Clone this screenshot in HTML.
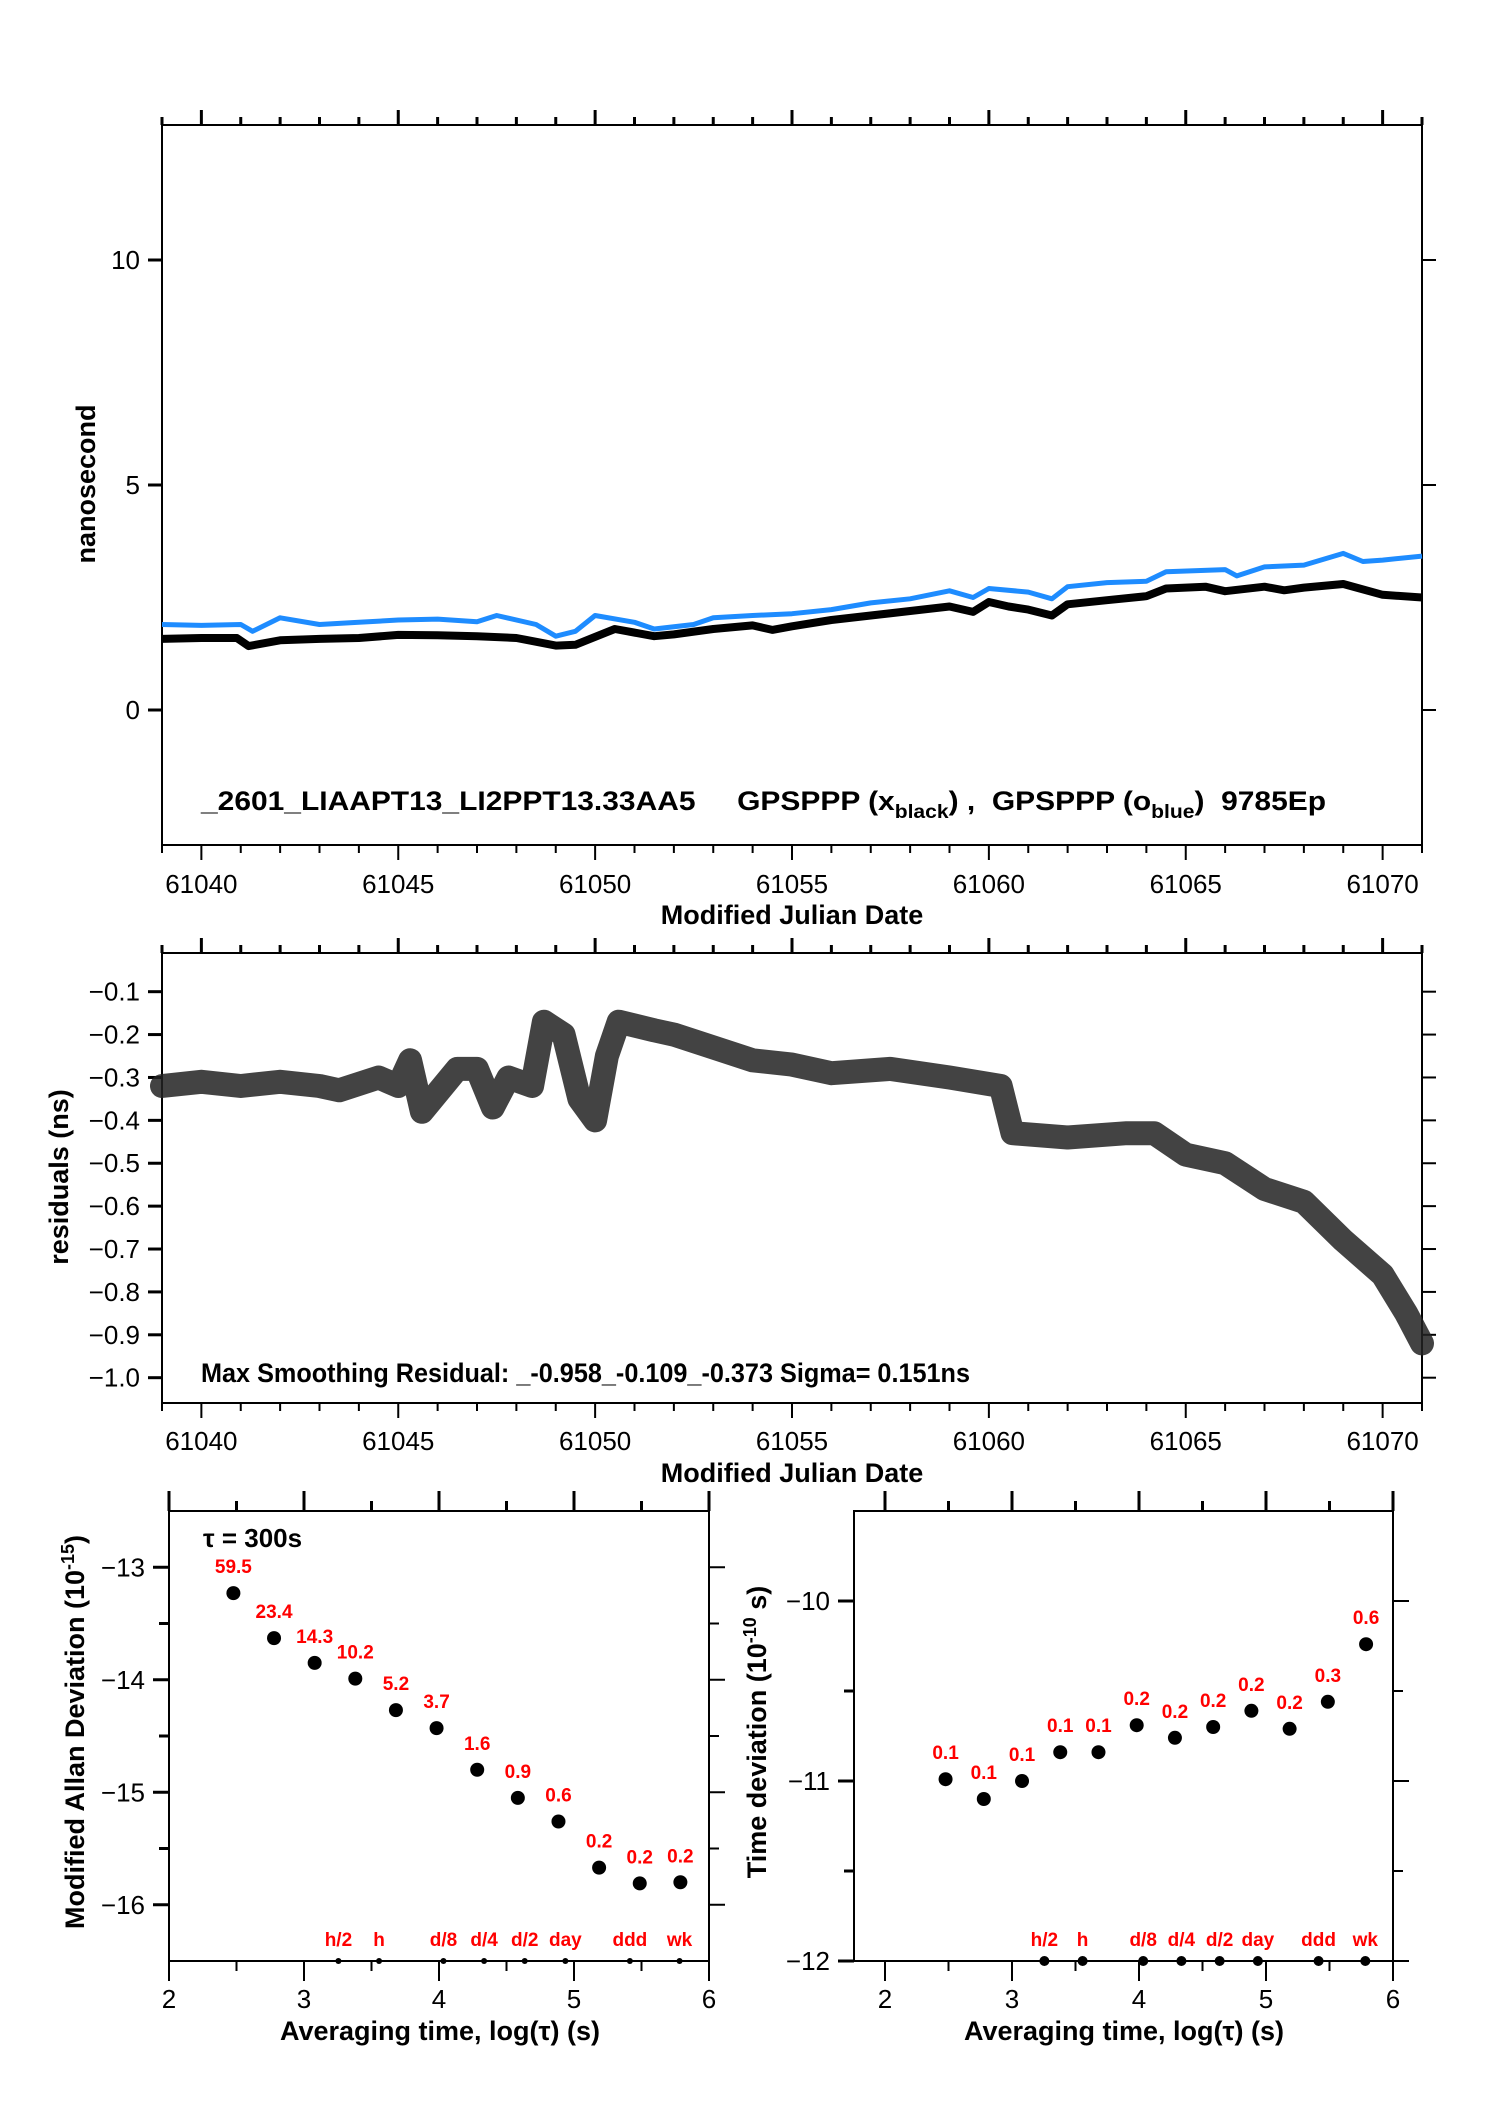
<!DOCTYPE html>
<html><head><meta charset="utf-8"><style>
body{margin:0;background:#fff;}
svg{display:block;font-family:"Liberation Sans",Arial,sans-serif;}
.tk{font-size:26px;fill:#000;}
.ttl{font-size:27px;font-weight:bold;fill:#000;}
.red{font-size:19px;font-weight:bold;fill:#f00;}
</style></head><body>
<svg id="fig" width="1488" height="2105" viewBox="0 0 1488 2105" xmlns="http://www.w3.org/2000/svg"></svg>
<script>
// ---- top plot data ----
const topBlackX=[61039,61040,61040.9,61041.2,61042,61043,61044,61045,61046,61047,61048,61049,61049.5,61050.5,61051.5,61052,61053,61054,61054.5,61055,61056,61057,61058,61059,61059.6,61060,61060.5,61061,61061.6,61062,61063,61064,61064.5,61065.5,61066,61067,61067.5,61068,61069,61070,61071];
const topBlackY=[1.58,1.6,1.6,1.42,1.55,1.58,1.6,1.67,1.66,1.64,1.6,1.43,1.45,1.8,1.64,1.68,1.8,1.88,1.78,1.86,2.0,2.1,2.2,2.3,2.18,2.4,2.3,2.23,2.1,2.35,2.44,2.53,2.7,2.74,2.64,2.74,2.66,2.72,2.8,2.56,2.5];
const topBlueX=[61039,61040,61041,61041.3,61042,61043,61044,61045,61046,61047,61047.5,61048.5,61049,61049.5,61050,61051,61051.5,61052.5,61053,61054,61055,61056,61057,61058,61059,61059.6,61060,61061,61061.6,61062,61063,61064,61064.5,61066,61066.3,61067,61068,61069,61069.5,61070,61071];
const topBlueY=[1.9,1.88,1.9,1.75,2.05,1.9,1.95,2.0,2.02,1.96,2.1,1.9,1.64,1.75,2.1,1.95,1.8,1.9,2.05,2.1,2.14,2.23,2.38,2.47,2.65,2.5,2.7,2.62,2.47,2.74,2.83,2.86,3.07,3.12,2.98,3.18,3.22,3.48,3.3,3.33,3.42];
const topXTicks=[61040,61045,61050,61055,61060,61065,61070];
const topYTicks=[0,5,10];
// ---- residuals data ----
const resX=[61039,61040,61041,61042,61043,61043.5,61044.5,61045,61045.3,61045.6,61046.5,61047,61047.4,61047.8,61048.4,61048.7,61049.2,61049.6,61050,61050.3,61050.6,61051.5,61052,61053,61054,61055,61056,61057.5,61059,61060.3,61060.6,61062,61063.5,61064.2,61065,61066,61067,61068,61069,61070,61070.6,61071];
const resY=[-0.32,-0.31,-0.32,-0.31,-0.32,-0.33,-0.30,-0.32,-0.26,-0.38,-0.28,-0.28,-0.37,-0.30,-0.32,-0.17,-0.20,-0.35,-0.40,-0.25,-0.17,-0.19,-0.20,-0.23,-0.26,-0.27,-0.29,-0.28,-0.30,-0.32,-0.43,-0.44,-0.43,-0.43,-0.48,-0.50,-0.56,-0.59,-0.68,-0.76,-0.85,-0.92];
const resYTicks=[-0.1,-0.2,-0.3,-0.4,-0.5,-0.6,-0.7,-0.8,-0.9,-1.0];
// ---- stability data ----
const tauLog=[2.477,2.778,3.079,3.380,3.681,3.982,4.283,4.584,4.885,5.186,5.487,5.788];
const adev=[-13.23,-13.63,-13.85,-13.99,-14.27,-14.43,-14.80,-15.05,-15.26,-15.67,-15.81,-15.80];
const adevLbl=["59.5","23.4","14.3","10.2","5.2","3.7","1.6","0.9","0.6","0.2","0.2","0.2"];
const tdev=[-10.99,-11.10,-11.0,-10.84,-10.84,-10.69,-10.76,-10.70,-10.61,-10.71,-10.56,-10.24];
const tdevLbl=["0.1","0.1","0.1","0.1","0.1","0.2","0.2","0.2","0.2","0.2","0.3","0.6"];
const markLog=[3.255,3.556,4.033,4.334,4.635,4.936,5.414,5.782];
const markLbl=["h/2","h","d/8","d/4","d/2","day","ddd","wk"];
const stabXTicks=[2,3,4,5,6];
const adevYTicks=[-13,-14,-15,-16];
const tdevYTicks=[-10,-11,-12];

const NS="http://www.w3.org/2000/svg";
const svg=document.getElementById('fig');
function mk(tag,attrs,parent){const e=document.createElementNS(NS,tag);for(const k in attrs)e.setAttribute(k,attrs[k]);(parent||svg).appendChild(e);return e;}
function txt(s,x,y,cls,anchor,parent){const t=mk('text',{x:x,y:y,class:cls,'text-anchor':anchor||'middle'},parent);t.textContent=s;return t;}
function scale(d0,d1,r0,r1){return v=>r0+(v-d0)*(r1-r0)/(d1-d0);}

function frame(g,L,T,R,B){
  const r=mk('rect',{x:L,y:T,width:R-L,height:B-T,fill:'none',stroke:'#000','stroke-width':2},g);
  
  
}
function xTicks(g,sx,T,B,from,to,minorStep,majorStep,labels,labY,minorLen,majorLen){
  for(let v=from;v<=to+1e-9;v+=minorStep){
    const isMaj=Math.abs(v/majorStep-Math.round(v/majorStep))<1e-6;
    const x=sx(v),l=isMaj?majorLen:minorLen;
    mk('line',{x1:x,x2:x,y1:T,y2:T-l,stroke:'#000','stroke-width':3},g);
    mk('line',{x1:x,x2:x,y1:B,y2:B+l,stroke:'#000','stroke-width':2},g);
  }
  labels.forEach(v=>{const t=txt(String(v),sx(v),labY,'tk','middle',g);
    
    });
}
function yTicks(g,sy,L,R,vals,fmt,len,minor){
  vals.forEach(v=>{const y=sy(v);
    mk('line',{x1:L-len,x2:L,y1:y,y2:y,stroke:'#000','stroke-width':3},g);
    mk('line',{x1:R,x2:R+len,y1:y,y2:y,stroke:'#000','stroke-width':2},g);
    const t=txt(fmt(v),L-len-8,y+9,'tk','end',g);
    
    });
  (minor||[]).forEach(v=>{const y=sy(v);
    mk('line',{x1:L-10,x2:L,y1:y,y2:y,stroke:'#000','stroke-width':3},g);
    mk('line',{x1:R,x2:R+10,y1:y,y2:y,stroke:'#000','stroke-width':2},g);});
}
function vtitle(g,s,x,y,name){const t=mk('text',{x:0,y:0,class:'ttl','text-anchor':'middle',transform:`translate(${x},${y}) rotate(-90)`},g);t.innerHTML=s;}
function pts(xs,ys,sx,sy){return xs.map((x,i)=>sx(x).toFixed(1)+','+sy(ys[i]).toFixed(1)).join(' ');}
const neg=v=>(v<0?'\u2212':'')+Math.abs(v);

// ===== top plot =====
{
const g=mk('g',{});
const L=162,R=1422,T=125,B=845;
const sx=scale(61039,61071,L,R), sy=scale(-3,13,B,T);
frame(g,L,T,R,B);
xTicks(g,sx,T,B,61039,61071,1,5,topXTicks,893,8,15);
yTicks(g,sy,L,R,topYTicks,v=>String(v),14);
const bl=mk('polyline',{points:pts(topBlackX,topBlackY,sx,sy),fill:'none',stroke:'#000','stroke-width':8,'stroke-linejoin':'round'},g);

const bu=mk('polyline',{points:pts(topBlueX,topBlueY,sx,sy),fill:'none',stroke:'#1e8cff','stroke-width':5,'stroke-linejoin':'round'},g);

const a=mk('text',{x:201,y:810,class:'ttl','font-size':'29',textLength:1125,lengthAdjust:'spacingAndGlyphs'},g);
a.innerHTML='_2601_LIAAPT13_LI2PPT13.33AA5&#160;&#160;&#160;&#160;&#160;GPSPPP (x<tspan font-size="19" dy="8">black</tspan><tspan dy="-8">) ,&#160;&#160;GPSPPP (o</tspan><tspan font-size="19" dy="8">blue</tspan><tspan dy="-8">)&#160;&#160;9785Ep</tspan>';

const xt=txt('Modified Julian Date',792,924,'ttl','middle',g);
vtitle(g,'nanosecond',95,484,'y-axis-title');
}
// ===== residuals =====
{
const g=mk('g',{});
const L=162,R=1422,T=953,B=1403;
const sx=scale(61039,61071,L,R), sy=scale(-1.059,-0.0098,B,T);
frame(g,L,T,R,B);
xTicks(g,sx,T,B,61039,61071,1,5,topXTicks,1450,8,15);
yTicks(g,sy,L,R,resYTicks,v=>neg(v).replace(/^(\u2212)(\d)$/,'$1$2.0').replace(/(\.\d)\d+/,'$1'),14);
const band=mk('polyline',{points:pts(resX,resY,sx,sy),fill:'none',stroke:'#222','stroke-width':24,'stroke-linejoin':'round','stroke-linecap':'round','stroke-opacity':0.85},g);

const a=txt('Max Smoothing Residual: _-0.958_-0.109_-0.373  Sigma= 0.151ns',201,1382,'ttl','start',g);
a.setAttribute('font-size','24');a.setAttribute('xml:space','preserve');
a.setAttribute('textLength','769');a.setAttribute('lengthAdjust','spacingAndGlyphs');

const xt=txt('Modified Julian Date',792,1482,'ttl','middle',g);
vtitle(g,'residuals (ns)',68,1177,'y-axis-title');
}
// ===== stability plots =====
function stab(name,L,R,xd0,yd0,yd1,vals,lbls,yt,ymin,title,tx,dotR,markR){
const g=mk('g',{});
const T=1511,B=1961;
const sx=scale(xd0,6,L,R), sy=scale(yd0,yd1,B,T);
frame(g,L,T,R,B);
xTicks(g,sx,T,B,2,6,0.5,1,stabXTicks,2008,10,20);
yTicks(g,sy,L,R,yt,neg,16,ymin);
tauLog.forEach((x,i)=>{
  const c=mk('circle',{cx:sx(x),cy:sy(vals[i]),r:dotR,fill:'#000'},g);
  
  const t=txt(lbls[i],sx(x),sy(vals[i])-20,'red','middle',g);
  
});
markLog.forEach((x,i)=>{
  const c=mk('circle',{cx:sx(x),cy:B,r:markR,fill:'#000'},g);
  
  const t=txt(markLbl[i],sx(x),B-15,'red','middle',g);
  
});
const xt=txt('Averaging time, log(\u03c4) (s)',tx,2040,'ttl','middle',g);
vtitle(g,title,name==='mdev-plot'?84:766,1732,'y-axis-title');
return g;
}
const g1=stab('mdev-plot',169,709,2,-16.5,-12.5,adev,adevLbl,adevYTicks,[-13.5,-14.5,-15.5],'Modified Allan Deviation (10<tspan font-size="18" dy="-10">-15</tspan><tspan dy="10">)</tspan>',440,7,3);
const tau=txt('\u03c4 = 300s',203,1547,'tk','start',g1);tau.setAttribute('font-size','15');tau.setAttribute('font-weight','bold');

stab('tdev-plot',854,1393,1.756,-12,-9.5,tdev,tdevLbl,tdevYTicks,[-10.5,-11.5],'Time deviation (10<tspan font-size="18" dy="-10">-10</tspan><tspan dy="10"> s)</tspan>',1124,7,5);
</script>
</body></html>
